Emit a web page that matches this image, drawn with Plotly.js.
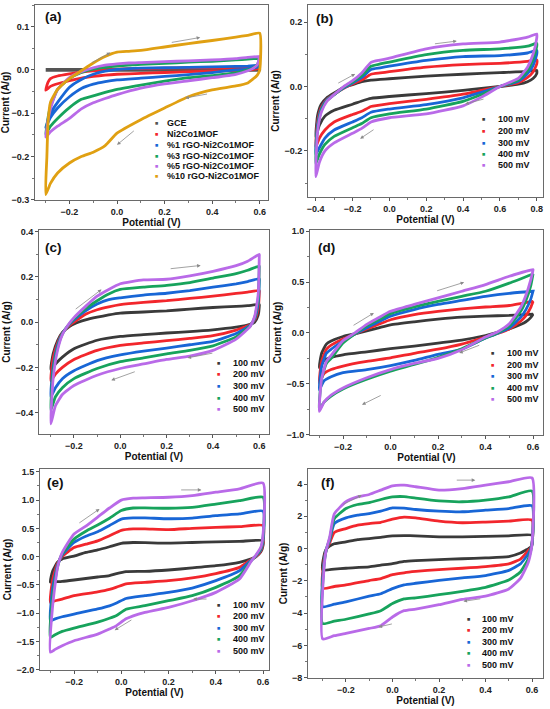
<!DOCTYPE html>
<html>
<head>
<meta charset="utf-8">
<script src="https://cdn.plot.ly/plotly-3.0.1.min.js"></script>
<style>html,body{margin:0;padding:0;background:#fff;}#chart{width:550px;height:709px;}</style>
</head>
<body>
<div id="chart"></div>
<script>
// ---------------- DATA ----------------
const RATE_LABELS = ['100 mV', '200 mV', '300 mV', '400 mV', '500 mV'];
const A_LABELS = ['GCE', 'Ni2Co1MOF', '%1 rGO-Ni2Co1MOF', '%3 rGO-Ni2Co1MOF', '%5 rGO-Ni2Co1MOF', '%10 rGO-Ni2Co1MOF'];

// Panel (a)
const A_xUp   = [-0.3, -0.295, -0.29, -0.28, -0.25, -0.2, -0.15, -0.1, -0.05, 0, 0.05, 0.1, 0.2, 0.3, 0.4, 0.5, 0.55, 0.6];
const A_xDown = [0.6, 0.59, 0.57, 0.55, 0.5, 0.4, 0.3, 0.2, 0.1, 0, -0.05, -0.1, -0.15, -0.2, -0.25, -0.28, -0.3];
const A_GCE_up   = [0.001, 0.001, 0.001, 0.001, 0.001, 0.001, 0.001, 0.001, 0.001, 0.001, 0.001, 0.001, 0.001, 0.001, 0.001, 0.001, 0.001, 0.001];
const A_GCE_down = [-0.001, -0.001, -0.001, -0.001, -0.001, -0.001, -0.001, -0.001, -0.001, -0.001, -0.001, -0.001, -0.001, -0.001, -0.001, -0.001, -0.001];
const A_MOF_up   = [-0.047, -0.036, -0.028, -0.02, -0.014, -0.009, -0.005, -0.002, 0.0, 0.002, 0.003, 0.003, 0.004, 0.005, 0.005, 0.006, 0.006, 0.007];
const A_MOF_down = [0.007, 0.003, 0.001, 0.0, -0.001, -0.003, -0.004, -0.006, -0.008, -0.01, -0.012, -0.015, -0.019, -0.025, -0.032, -0.038, -0.047];
const A_1_up     = [-0.133, -0.125, -0.115, -0.1, -0.075, -0.04, -0.022, -0.01, -0.003, 0.001, 0.003, 0.004, 0.005, 0.006, 0.007, 0.008, 0.009, 0.011];
const A_1_down   = [0.011, 0.006, 0.004, 0.002, 0.0, -0.006, -0.011, -0.015, -0.019, -0.023, -0.027, -0.033, -0.043, -0.062, -0.088, -0.11, -0.133];
const A_3_up     = [-0.148, -0.13, -0.11, -0.085, -0.045, -0.02, -0.006, 0.002, 0.006, 0.009, 0.011, 0.013, 0.015, 0.018, 0.02, 0.023, 0.025, 0.027];
const A_3_down   = [0.027, 0.012, 0.004, 0.0, -0.007, -0.013, -0.018, -0.026, -0.035, -0.045, -0.052, -0.06, -0.068, -0.087, -0.112, -0.13, -0.148];
const A_5_up     = [-0.155, -0.135, -0.115, -0.09, -0.045, -0.018, -0.004, 0.005, 0.011, 0.014, 0.016, 0.017, 0.019, 0.021, 0.023, 0.026, 0.029, 0.031];
const A_5_down   = [0.031, 0.012, 0.003, -0.002, -0.01, -0.018, -0.025, -0.032, -0.042, -0.057, -0.066, -0.076, -0.09, -0.112, -0.13, -0.143, -0.155];
const A_10_up    = [-0.288, -0.2, -0.12, -0.075, -0.045, -0.02, -0.002, 0.016, 0.031, 0.041, 0.043, 0.045, 0.053, 0.061, 0.068, 0.076, 0.08, 0.085];
const A_10_down  = [0.0, -0.012, -0.022, -0.03, -0.037, -0.046, -0.062, -0.088, -0.115, -0.146, -0.175, -0.19, -0.2, -0.215, -0.238, -0.262, -0.288];

// Panel (b)
const B_xUp   = [-0.4, -0.39, -0.37, -0.34, -0.3, -0.25, -0.2, -0.15, -0.1, -0.05, 0, 0.2, 0.4, 0.6, 0.75, 0.8];
const B_xDown = [0.8, 0.78, 0.75, 0.7, 0.6, 0.5, 0.4, 0.2, 0, -0.1, -0.15, -0.2, -0.3, -0.35, -0.38, -0.4];
const B_100_up   = [-0.157, -0.09, -0.055, -0.035, -0.02, -0.003, 0.006, 0.015, 0.02, 0.022, 0.024, 0.032, 0.038, 0.043, 0.047, 0.05];
const B_100_down = [0.04, 0.025, 0.015, 0.007, 0.0, -0.006, -0.012, -0.022, -0.031, -0.037, -0.045, -0.055, -0.074, -0.092, -0.12, -0.157];
const B_200_up   = [-0.188, -0.11, -0.065, -0.04, -0.024, -0.006, 0.008, 0.02, 0.038, 0.042, 0.046, 0.06, 0.068, 0.072, 0.078, 0.083];
const B_200_down = [0.07, 0.045, 0.028, 0.012, 0.0, -0.012, -0.024, -0.04, -0.053, -0.062, -0.077, -0.087, -0.11, -0.135, -0.16, -0.188];
const B_300_up   = [-0.21, -0.12, -0.07, -0.042, -0.025, -0.005, 0.011, 0.028, 0.053, 0.058, 0.063, 0.081, 0.093, 0.096, 0.104, 0.112];
const B_300_down = [0.1, 0.065, 0.04, 0.016, 0.0, -0.018, -0.035, -0.056, -0.07, -0.08, -0.097, -0.11, -0.135, -0.16, -0.19, -0.21];
const B_400_up   = [-0.24, -0.13, -0.075, -0.044, -0.025, -0.003, 0.014, 0.034, 0.063, 0.07, 0.076, 0.099, 0.112, 0.117, 0.125, 0.134];
const B_400_down = [0.125, 0.085, 0.05, 0.02, 0.0, -0.025, -0.046, -0.07, -0.085, -0.097, -0.115, -0.128, -0.155, -0.18, -0.21, -0.24];
const B_500_up   = [-0.28, -0.14, -0.08, -0.046, -0.025, -0.001, 0.018, 0.042, 0.075, 0.082, 0.088, 0.117, 0.132, 0.138, 0.153, 0.163];
const B_500_down = [0.15, 0.1, 0.06, 0.025, 0.0, -0.033, -0.06, -0.085, -0.097, -0.11, -0.13, -0.145, -0.175, -0.2, -0.235, -0.28];

// Panel (c)
const C_xUp   = [-0.3, -0.29, -0.27, -0.25, -0.22, -0.2, -0.15, -0.1, -0.05, 0, 0.1, 0.2, 0.3, 0.4, 0.5, 0.55, 0.6];
const C_xDown = [0.6, 0.595, 0.58, 0.56, 0.54, 0.5, 0.4, 0.3, 0.2, 0.1, 0, -0.1, -0.2, -0.25, -0.28, -0.3];
const C_100_up   = [-0.21, -0.14, -0.08, -0.045, -0.02, -0.008, 0.01, 0.022, 0.032, 0.04, 0.045, 0.05, 0.058, 0.065, 0.07, 0.073, 0.078];
const C_100_down = [0.07, 0.03, 0.0, -0.01, -0.015, -0.022, -0.034, -0.042, -0.048, -0.055, -0.063, -0.08, -0.118, -0.155, -0.185, -0.21];
const C_200_up   = [-0.26, -0.16, -0.09, -0.048, -0.015, 0.0, 0.035, 0.055, 0.068, 0.078, 0.088, 0.095, 0.105, 0.115, 0.127, 0.133, 0.14];
const C_200_down = [0.13, 0.06, 0.01, -0.012, -0.02, -0.035, -0.06, -0.072, -0.082, -0.092, -0.103, -0.125, -0.165, -0.2, -0.23, -0.26];
const C_300_up   = [-0.33, -0.2, -0.1, -0.05, -0.01, 0.01, 0.05, 0.08, 0.1, 0.108, 0.12, 0.128, 0.14, 0.155, 0.17, 0.18, 0.192];
const C_300_down = [0.18, 0.08, 0.015, -0.015, -0.028, -0.05, -0.085, -0.1, -0.115, -0.128, -0.145, -0.17, -0.215, -0.25, -0.29, -0.33];
const C_400_up   = [-0.39, -0.22, -0.11, -0.052, -0.008, 0.015, 0.06, 0.095, 0.125, 0.145, 0.155, 0.163, 0.175, 0.195, 0.215, 0.23, 0.248];
const C_400_down = [0.24, 0.1, 0.02, -0.018, -0.035, -0.065, -0.105, -0.125, -0.14, -0.158, -0.175, -0.205, -0.25, -0.29, -0.33, -0.39];
const C_500_up   = [-0.45, -0.25, -0.12, -0.055, -0.005, 0.02, 0.07, 0.115, 0.145, 0.17, 0.187, 0.19, 0.205, 0.225, 0.25, 0.27, 0.3];
const C_500_down = [0.29, 0.12, 0.025, -0.02, -0.04, -0.075, -0.125, -0.15, -0.165, -0.185, -0.205, -0.235, -0.28, -0.32, -0.37, -0.45];

// Panel (d)
const D_xUp   = [-0.3, -0.29, -0.27, -0.25, -0.2, -0.15, -0.1, -0.05, 0, 0.1, 0.2, 0.3, 0.4, 0.5, 0.6];
const D_xDown = [0.6, 0.59, 0.57, 0.55, 0.5, 0.45, 0.4, 0.3, 0.2, 0.1, 0, -0.1, -0.2, -0.25, -0.28, -0.3];
const D_100_up   = [-0.34, -0.2, -0.11, -0.08, -0.035, -0.008, 0.02, 0.05, 0.08, 0.11, 0.135, 0.155, 0.166, 0.172, 0.185];
const D_100_down = [0.185, 0.15, 0.11, 0.085, 0.04, 0.005, -0.025, -0.07, -0.1, -0.13, -0.155, -0.185, -0.215, -0.24, -0.27, -0.34];
const D_200_up   = [-0.49, -0.28, -0.16, -0.12, -0.06, -0.01, 0.04, 0.085, 0.13, 0.18, 0.212, 0.236, 0.255, 0.27, 0.31];
const D_200_down = [0.31, 0.25, 0.17, 0.12, 0.04, -0.005, -0.04, -0.11, -0.16, -0.2, -0.245, -0.28, -0.325, -0.36, -0.4, -0.49];
const D_300_up   = [-0.56, -0.33, -0.2, -0.16, -0.08, -0.01, 0.05, 0.11, 0.165, 0.23, 0.28, 0.32, 0.36, 0.39, 0.41];
const D_300_down = [0.41, 0.33, 0.23, 0.16, 0.05, -0.005, -0.05, -0.16, -0.21, -0.27, -0.32, -0.36, -0.39, -0.43, -0.47, -0.56];
const D_400_up   = [-0.75, -0.45, -0.3, -0.25, -0.1, -0.01, 0.07, 0.13, 0.19, 0.256, 0.31, 0.36, 0.41, 0.49, 0.58];
const D_400_down = [0.58, 0.46, 0.32, 0.22, 0.07, 0.0, -0.05, -0.155, -0.24, -0.31, -0.375, -0.455, -0.55, -0.62, -0.68, -0.75];
const D_500_up   = [-0.77, -0.45, -0.28, -0.22, -0.075, 0.0, 0.085, 0.15, 0.213, 0.28, 0.344, 0.41, 0.475, 0.557, 0.623];
const D_500_down = [0.62, 0.52, 0.37, 0.26, 0.09, 0.01, -0.04, -0.165, -0.25, -0.3, -0.36, -0.44, -0.54, -0.61, -0.68, -0.77];

// Panel (e)
const E_xUp   = [-0.3, -0.29, -0.27, -0.25, -0.2, -0.15, -0.1, -0.05, 0, 0.05, 0.1, 0.2, 0.3, 0.4, 0.5, 0.6];
const E_xDown = [0.6, 0.59, 0.57, 0.55, 0.5, 0.4, 0.3, 0.2, 0.1, 0.02, -0.02, -0.05, -0.1, -0.2, -0.25, -0.28, -0.3];
const E_100_up   = [-0.45, -0.25, -0.1, -0.04, 0.01, 0.075, 0.118, 0.175, 0.236, 0.25, 0.248, 0.238, 0.25, 0.262, 0.27, 0.283];
const E_100_down = [0.2, 0.08, 0.0, -0.04, -0.1, -0.16, -0.2, -0.236, -0.26, -0.265, -0.3, -0.335, -0.36, -0.413, -0.437, -0.445, -0.45];
const E_200_up   = [-0.81, -0.4, -0.12, 0.0, 0.16, 0.22, 0.28, 0.37, 0.465, 0.49, 0.49, 0.478, 0.5, 0.518, 0.53, 0.549];
const E_200_down = [0.25, 0.1, 0.0, -0.05, -0.19, -0.3, -0.375, -0.425, -0.455, -0.48, -0.54, -0.58, -0.625, -0.69, -0.75, -0.78, -0.81];
const E_300_up   = [-1.13, -0.55, -0.15, 0.03, 0.25, 0.36, 0.44, 0.55, 0.665, 0.685, 0.685, 0.67, 0.68, 0.725, 0.755, 0.803];
const E_300_down = [0.3, 0.12, 0.01, -0.06, -0.25, -0.425, -0.555, -0.632, -0.69, -0.74, -0.82, -0.87, -0.925, -1.015, -1.063, -1.1, -1.13];
const E_400_up   = [-1.43, -0.7, -0.18, 0.05, 0.31, 0.45, 0.56, 0.68, 0.815, 0.86, 0.862, 0.856, 0.872, 0.93, 0.99, 1.05];
const E_400_down = [0.35, 0.14, 0.02, -0.07, -0.336, -0.543, -0.69, -0.78, -0.868, -0.93, -1.04, -1.09, -1.16, -1.263, -1.322, -1.38, -1.43];
const E_500_up   = [-1.69, -0.85, -0.2, 0.07, 0.4, 0.54, 0.7, 0.86, 1.0, 1.033, 1.04, 1.05, 1.08, 1.14, 1.2, 1.3];
const E_500_down = [0.4, 0.16, 0.03, -0.08, -0.396, -0.632, -0.78, -0.897, -0.986, -1.1, -1.22, -1.28, -1.37, -1.488, -1.576, -1.64, -1.69];

// Panel (f)
const F_xUp   = [-0.3, -0.295, -0.285, -0.27, -0.25, -0.2, -0.15, -0.1, -0.05, 0, 0.05, 0.1, 0.2, 0.3, 0.4, 0.5, 0.6];
const F_xDown = [0.6, 0.595, 0.585, 0.57, 0.55, 0.5, 0.4, 0.3, 0.2, 0.1, 0.05, 0, -0.05, -0.1, -0.2, -0.25, -0.3];
const F_100_up   = [-1.32, -0.5, -0.05, 0.15, 0.3, 0.42, 0.55, 0.62, 0.7, 0.79, 0.8, 0.79, 0.73, 0.72, 0.76, 0.79, 0.83];
const F_100_down = [0.3, 0.1, 0.0, -0.12, -0.28, -0.5, -0.58, -0.63, -0.68, -0.75, -0.8, -0.93, -1.03, -1.14, -1.22, -1.27, -1.32];
const F_200_up   = [-2.46, -0.8, -0.1, 0.35, 1.0, 1.24, 1.45, 1.55, 1.63, 1.82, 1.95, 1.9, 1.7, 1.6, 1.64, 1.7, 1.76];
const F_200_down = [0.3, 0.05, -0.1, -0.35, -0.65, -0.95, -1.12, -1.22, -1.3, -1.42, -1.5, -1.62, -1.86, -1.98, -2.25, -2.35, -2.46];
const F_300_up   = [-3.6, -1.0, -0.1, 0.5, 1.55, 1.9, 2.07, 2.17, 2.32, 2.52, 2.5, 2.42, 2.32, 2.28, 2.38, 2.48, 2.65];
const F_300_down = [0.3, 0.0, -0.3, -0.6, -0.95, -1.35, -1.68, -1.82, -1.97, -2.15, -2.25, -2.48, -2.8, -2.95, -3.3, -3.45, -3.6];
const F_400_up   = [-4.65, -1.2, -0.1, 0.6, 1.85, 2.48, 2.73, 2.85, 3.04, 3.2, 3.22, 3.12, 2.95, 2.9, 3.0, 3.2, 3.56];
const F_400_down = [0.3, -0.1, -0.6, -1.0, -1.45, -1.95, -2.4, -2.65, -2.86, -3.05, -3.12, -3.41, -3.85, -4.05, -4.38, -4.5, -4.65];
const F_500_up   = [-5.6, -1.4, -0.1, 0.7, 2.15, 2.9, 3.2, 3.35, 3.62, 3.89, 3.93, 3.83, 3.62, 3.72, 3.93, 4.14, 4.38];
const F_500_down = [0.3, -0.2, -0.8, -1.3, -1.85, -2.5, -2.95, -3.15, -3.48, -3.75, -3.85, -4.24, -4.78, -4.95, -5.25, -5.4, -5.6];

// Scan-direction arrows: [tailX, tailY, headX, headY]
const A_arrows = [[-0.112, 0.015, -0.028, 0.04], [0.224, 0.063, 0.35, 0.075], [0.385, -0.055, 0.287, -0.065], [0.077, -0.138, 0.0, -0.173]];
const B_arrows = [[-0.286, 0.008, -0.186, 0.039], [0.239, 0.132, 0.366, 0.141], [0.519, -0.038, 0.411, -0.054], [-0.078, -0.131, -0.159, -0.162]];
const C_arrows = [[-0.199, 0.053, -0.081, 0.145], [0.211, 0.236, 0.347, 0.251], [0.404, -0.136, 0.29, -0.158], [0.069, -0.217, -0.039, -0.257]];
const D_arrows = [[-0.162, 0.066, -0.07, 0.197], [0.19, 0.41, 0.31, 0.498], [0.38, -0.115, 0.289, -0.197], [-0.035, -0.607, -0.12, -0.705]];
const E_arrows = [[-0.184, 0.578, -0.092, 0.844], [0.247, 1.18, 0.339, 1.18], [0.367, -0.75, 0.304, -0.75], [0.049, -1.104, -0.028, -1.3]];
const F_arrows = [[-0.218, 2.69, -0.132, 3.31], [0.27, 4.24, 0.356, 4.24], [0.384, -3.1, 0.305, -3.27], [0.004, -4.65, -0.06, -4.86]];

// ---------------- STYLE / LAYOUT ----------------
const RATE_COLORS = ['#3a3a3a', '#f2262c', '#1866d6', '#17a35c', '#b96ae8'];
const A_COLORS = ['#555555', '#f2262c', '#1866d6', '#17a35c', '#b96ae8', '#e0a012'];
const FONT = 'Liberation Sans, Arial, sans-serif';
const W = 550, H = 709;
const px = v => v / W;
const py = v => 1 - v / H;

const panels = [
  { label: '(a)', frame: [35, 268, 5, 200], xr: [-0.345, 0.635], yr: [-0.3005, 0.15], ydt: 0.1, yfmt: '.1f',
    xUp: A_xUp, xDown: A_xDown,
    series: [[A_GCE_up, A_GCE_down], [A_MOF_up, A_MOF_down], [A_1_up, A_1_down], [A_3_up, A_3_down], [A_5_up, A_5_down], [A_10_up, A_10_down]],
    names: A_LABELS, colors: A_COLORS, arrows: A_arrows,
    lab: [53, 17], leg: { mx: 156, tx: 165, rows: [123, 134, 145, 155.5, 166, 176.5] } },
  { label: '(b)', frame: [308, 543, 5, 197], xr: [-0.442, 0.834], yr: [-0.343, 0.253], ydt: 0.2, yfmt: '.1f',
    xUp: B_xUp, xDown: B_xDown,
    series: [[B_100_up, B_100_down], [B_200_up, B_200_down], [B_300_up, B_300_down], [B_400_up, B_400_down], [B_500_up, B_500_down]],
    names: RATE_LABELS, colors: RATE_COLORS, arrows: B_arrows,
    lab: [324, 19], leg: { mx: 483, tx: 496, rows: [119.5, 131, 142.5, 154, 165.5] } },
  { label: '(c)', frame: [39, 269, 230, 434], xr: [-0.351, 0.642], yr: [-0.495, 0.408], ydt: 0.2, yfmt: '.1f',
    xUp: C_xUp, xDown: C_xDown,
    series: [[C_100_up, C_100_down], [C_200_up, C_200_down], [C_300_up, C_300_down], [C_400_up, C_400_down], [C_500_up, C_500_down]],
    names: RATE_LABELS, colors: RATE_COLORS, arrows: C_arrows,
    lab: [53, 247], leg: { mx: 218, tx: 231, rows: [363, 374.5, 386, 397.5, 409] } },
  { label: '(d)', frame: [310, 543, 230, 435], xr: [-0.339, 0.642], yr: [-1.003, 1.012], ydt: 0.5, yfmt: '.1f',
    xUp: D_xUp, xDown: D_xDown,
    series: [[D_100_up, D_100_down], [D_200_up, D_200_down], [D_300_up, D_300_down], [D_400_up, D_400_down], [D_500_up, D_500_down]],
    names: RATE_LABELS, colors: RATE_COLORS, arrows: D_arrows,
    lab: [326, 247], leg: { mx: 492, tx: 505, rows: [353, 364.5, 376, 387.5, 399] } },
  { label: '(e)', frame: [40, 269, 469, 670], xr: [-0.344, 0.625], yr: [-2.005, 1.55], ydt: 0.5, yfmt: '.1f',
    xUp: E_xUp, xDown: E_xDown,
    series: [[E_100_up, E_100_down], [E_200_up, E_200_down], [E_300_up, E_300_down], [E_400_up, E_400_down], [E_500_up, E_500_down]],
    names: RATE_LABELS, colors: RATE_COLORS, arrows: E_arrows,
    lab: [55, 482], leg: { mx: 218, tx: 231, rows: [604.5, 616, 627.5, 639, 650.5] } },
  { label: '(f)', frame: [308, 543, 469, 678], xr: [-0.363, 0.647], yr: [-8.02, 4.93], ydt: 2, yfmt: 'd',
    xUp: F_xUp, xDown: F_xDown,
    series: [[F_100_up, F_100_down], [F_200_up, F_200_down], [F_300_up, F_300_down], [F_400_up, F_400_down], [F_500_up, F_500_down]],
    names: RATE_LABELS, colors: RATE_COLORS, arrows: F_arrows,
    lab: [328, 482], leg: { mx: 468, tx: 480, rows: [618.5, 630, 641.5, 653, 664.5] } }
];

const traces = [];
const annotations = [];
const layout = {
  width: W, height: H,
  margin: { l: 0, r: 0, t: 0, b: 0 },
  paper_bgcolor: '#ffffff', plot_bgcolor: '#ffffff',
  showlegend: false,
  font: { family: FONT, size: 9, color: '#222' },
  annotations: annotations
};

const tickFont = { family: FONT, size: 9, color: '#222', weight: 'bold' };
const titleFont = { family: FONT, size: 10, color: '#111', weight: 'bold' };

panels.forEach((p, i) => {
  const n = i === 0 ? '' : String(i + 1);
  const xa = 'x' + n, ya = 'y' + n;
  const [l, r, t, b] = p.frame;
  layout['xaxis' + n] = {
    domain: [px(l), px(r)], anchor: ya, range: p.xr,
    dtick: 0.2, tick0: 0, tickformat: '.1f',
    showline: true, mirror: true, linecolor: '#6a6a6a', linewidth: 1,
    ticks: 'outside', ticklen: 3, tickwidth: 1, tickcolor: '#555',
    minor: { ticks: 'outside', ticklen: 2, tickcolor: '#777', dtick: 0.1 },
    showgrid: false, zeroline: false, tickfont: tickFont,
    title: { text: 'Potential (V)', font: titleFont, standoff: 2 }
  };
  layout['yaxis' + n] = {
    domain: [py(b), py(t)], anchor: xa, range: p.yr,
    dtick: p.ydt, tick0: 0, tickformat: p.yfmt,
    showline: true, mirror: true, linecolor: '#6a6a6a', linewidth: 1,
    ticks: 'outside', ticklen: 3, tickwidth: 1, tickcolor: '#555',
    minor: { ticks: 'outside', ticklen: 2, tickcolor: '#777', dtick: p.ydt / 2 },
    showgrid: false, zeroline: false, tickfont: tickFont,
    title: { text: 'Current (A/g)', font: titleFont, standoff: 2 }
  };

  p.series.forEach((s, k) => {
    traces.push({
      type: 'scatter', mode: 'lines', name: p.names[k],
      x: p.xUp.concat(p.xDown), y: s[0].concat(s[1]),
      xaxis: xa, yaxis: ya,
      line: { color: p.colors[k], width: 2.8, shape: 'spline', smoothing: 0.5 },
      hoverinfo: 'skip', showlegend: false
    });
  });

  // panel label
  annotations.push({ xref: 'paper', yref: 'paper', x: px(p.lab[0]), y: py(p.lab[1]),
    xanchor: 'center', yanchor: 'middle', showarrow: false, text: p.label,
    font: { family: FONT, size: 13.5, color: '#111', weight: 'bold' } });

  // legend
  p.names.forEach((nm, k) => {
    annotations.push({ xref: 'paper', yref: 'paper', x: px(p.leg.mx), y: py(p.leg.rows[k]),
      xanchor: 'center', yanchor: 'middle', showarrow: false, text: '■',
      font: { family: FONT, size: 5.5, color: p.colors[k] } });
    annotations.push({ xref: 'paper', yref: 'paper', x: px(p.leg.tx), y: py(p.leg.rows[k]),
      xanchor: 'left', yanchor: 'middle', showarrow: false, text: nm,
      font: { family: FONT, size: 9, color: '#111', weight: 'bold' } });
  });

  // scan arrows
  p.arrows.forEach(a => {
    annotations.push({ xref: xa, yref: ya, axref: xa, ayref: ya,
      x: a[2], y: a[3], ax: a[0], ay: a[1], text: '', showarrow: true,
      arrowhead: 2, arrowsize: 0.9, arrowwidth: 0.8, arrowcolor: '#8a8a8a', standoff: 0, startstandoff: 0 });
  });
});

Plotly.newPlot('chart', traces, layout, { staticPlot: true, displayModeBar: false });
</script>
</body>
</html>
